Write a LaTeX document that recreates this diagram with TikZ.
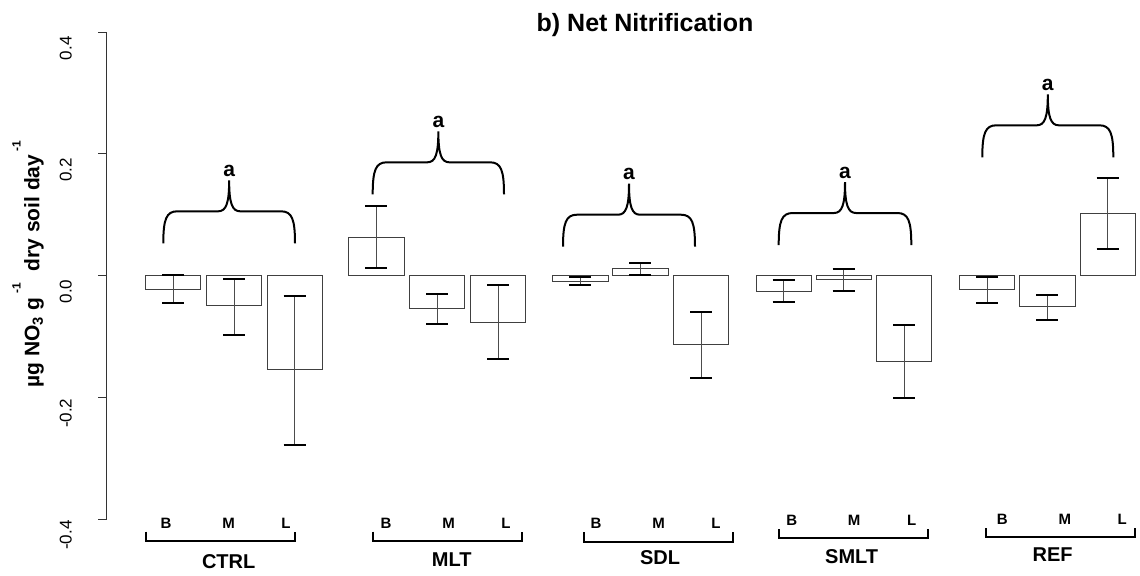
\documentclass[tikz,border=0pt]{standalone}
\usepackage{fontspec}
\setmainfont{Liberation Sans}
\begin{document}
\begin{tikzpicture}[x=0.5pt,y=-0.5pt,
    axis/.style={draw=black!80,line width=0.5pt},
    bar/.style={draw=black!75,line width=0.5pt},
    errbar/.style={draw=black!70,line width=0.5pt},
    errcap/.style={draw=black,line width=1pt},
    brace/.style={draw=black,line width=1pt},
    bracket/.style={draw=black,line width=1pt},
    ticklbl/.style={inner sep=0pt,rotate=90,font=\fontsize{8.5}{10}\selectfont},
    sig/.style={inner sep=0pt,font=\fontsize{10.5}{12}\selectfont\bfseries},
    lvl/.style={inner sep=0pt,font=\fontsize{7.5}{9}\selectfont\bfseries},
    grp/.style={inner sep=0pt,font=\fontsize{10}{12}\selectfont\bfseries}]
  \useasboundingbox (0,0) rectangle (1140,575);
  \node[inner sep=0pt,font=\fontsize{12.5}{15}\selectfont\bfseries] (title) at (645,25) {b) Net Nitrification};
  % y axis, ticks and labels
  \draw[axis] (106.5,32.3) -- (106.5,519);
  \foreach \t/\yy [count=\i] in {0.4/32.3, 0.2/153.7, 0.0/275.5, -0.2/397.3, -0.4/519}{
    \draw[axis] (98,\yy) -- (106.5,\yy);
    \node[ticklbl] (tick\i) at (65.8,\yy+16) {\t};}
  \node[inner sep=0pt,rotate=90,anchor=base,font=\fontsize{10.5}{12}\selectfont\bfseries] (ylabel) at (39.5,264)
    {µg NO\textsubscript{3} g\,\raisebox{0.9em}{\fontsize{6}{7}\selectfont -1}\ \ dry soil day\,\raisebox{0.9em}{\fontsize{6}{7}\selectfont -1}};
  % bars with error bars, in data units
  \begin{scope}[shift={(0,275.5)},y=304pt]
    \foreach \xl/\v/\lo/\hi in {145.3/-0.023/-0.045/0.001, 206.3/-0.050/-0.098/-0.005, 267/-0.155/-0.279/-0.033,
        348.7/0.062/0.012/0.114, 409.3/-0.055/-0.080/-0.030, 470.3/-0.077/-0.138/-0.016,
        552.7/-0.010/-0.016/-0.003, 612.7/0.011/0.001/0.021, 673.3/-0.114/-0.169/-0.060,
        756/-0.026/-0.044/-0.007, 816/-0.007/-0.025/0.011, 876.3/-0.141/-0.201/-0.081,
        959.3/-0.023/-0.045/-0.002, 1019.7/-0.051/-0.073/-0.032, 1080/0.102/0.044/0.161}{
      \draw[bar] (\xl,0) rectangle (\xl+55.4,\v);
      \draw[errbar] (\xl+27.7,\lo) -- (\xl+27.7,\hi);
      \draw[errcap] (\xl+16.7,\lo) -- (\xl+38.7,\lo);
      \draw[errcap] (\xl+16.7,\hi) -- (\xl+38.7,\hi);}
  \end{scope}
  % braces with letters
  \foreach \xa/\xb/\yb/\nm in {163.3/295/243.3/CTRL, 372.7/504/194.3/MLT, 563/695/246.7/SDL,
      778.7/911.3/245/SMLT, 982.3/1113.3/157.3/REF}{
    \pgfmathsetmacro\xm{(\xa+\xb)/2}
    \pgfmathsetmacro\yh{\yb-32}
    \pgfmathsetmacro\yt{\yb-63}
    \draw[brace] (\xa,\yb) .. controls (\xa,\yh+8) and (\xa+3,\yh) .. (\xa+14,\yh) -- (\xm-11,\yh)
      .. controls (\xm-3,\yh) and (\xm,\yh-8) .. (\xm,\yt)
      .. controls (\xm,\yh-8) and (\xm+3,\yh) .. (\xm+11,\yh) -- (\xb-14,\yh)
      .. controls (\xb-3,\yh) and (\xb,\yh+8) .. (\xb,\yb);
    \node[sig,anchor=base] (sig\nm) at (\xm,\yt-4) {a};}
  % treatment groups along the bottom
  \foreach \grp/\bl/\by/\lx/\nx/\ny in {CTRL/145.7/541/166/228.7/561.7, MLT/373.3/541/386/451.7/560,
      SDL/584/541.7/596/660/557.3, SMLT/779.3/538.3/791.7/851.7/556.7, REF/986/537.3/1002.3/1052.7/555}{
    \draw[bracket] (\bl,\by-9.3) -- (\bl,\by) -- (\bl+149,\by) -- (\bl+149,\by-9.3);
    \node[lvl] (B\grp) at (\lx,\by-18) {B};
    \node[lvl] (M\grp) at (\lx+62.5,\by-18) {M};
    \node[lvl] (L\grp) at (\lx+120,\by-18) {L};
    \node[grp] (\grp) at (\nx,\ny) {\grp};}
\end{tikzpicture}
\end{document}
